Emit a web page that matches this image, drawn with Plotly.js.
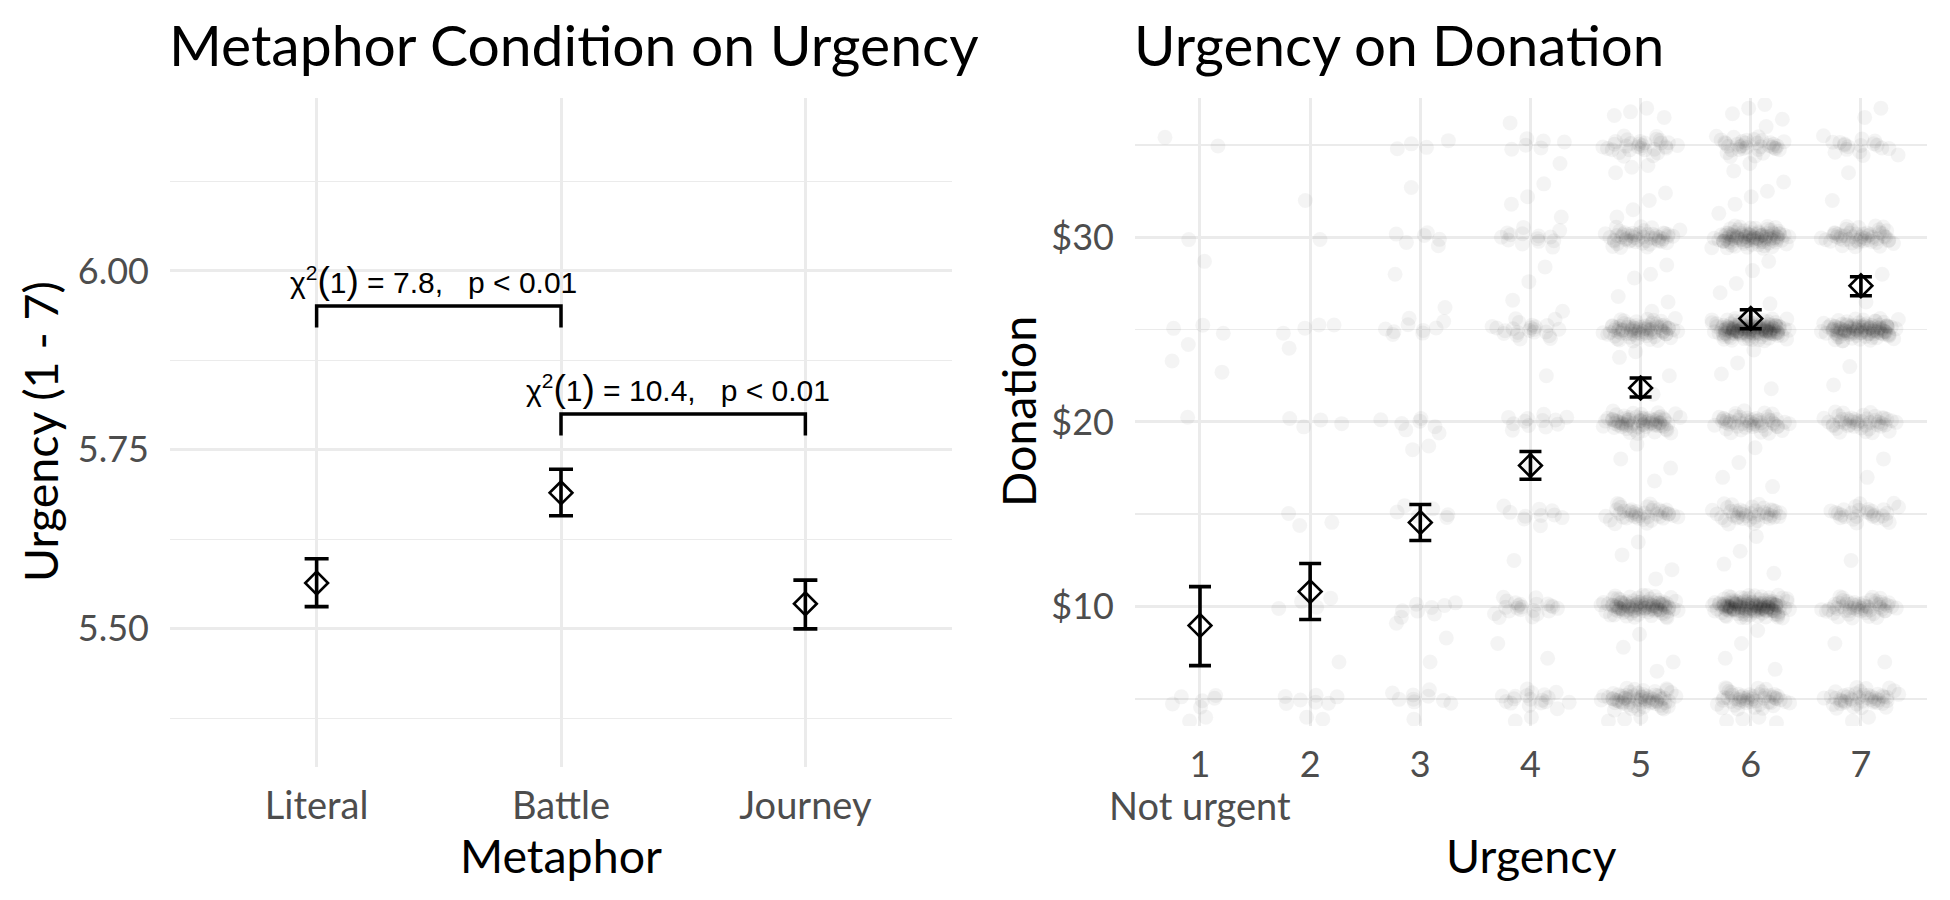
<!DOCTYPE html>
<html>
<head>
<meta charset="utf-8">
<script src="https://cdn.plot.ly/plotly-3.0.1.min.js"></script>
<style>
  html, body { margin: 0; padding: 0; background: #ffffff; }
  #chart { width: 1950px; height: 900px; }
</style>
</head>
<body>
<div id="chart"></div>
<script>
// ---------- Left panel data ----------
const metaphorCategories = ["Literal", "Battle", "Journey"];
const urgencyMean  = [5.564, 5.690, 5.535];
const urgencyLower = [5.531, 5.658, 5.500];
const urgencyUpper = [5.598, 5.723, 5.568];
const urgencyTicks = [5.50, 5.75, 6.00];
const urgencyTickLabels = ["5.50", "5.75", "6.00"];

// comparison brackets
const bracketFrom   = [0, 1];
const bracketTo     = [1, 2];
const bracketLevel  = [5.951, 5.800];
const bracketStat   = ["7.8", "10.4"];
const bracketP      = ["0.01", "0.01"];

// ---------- Right panel data ----------
const urgencyLevels = [1, 2, 3, 4, 5, 6, 7];
const urgencyTickText = ["1", "2", "3", "4", "5", "6", "7"];
const donationMean  = [8.97, 10.81, 14.55, 17.64, 21.84, 25.60, 27.38];
const donationLower = [6.80, 9.30, 13.58, 16.90, 21.35, 25.05, 26.84];
const donationUpper = [11.08, 12.33, 15.53, 18.40, 22.38, 26.08, 27.87];
const donationTicks = [10, 20, 30];
const donationTickLabels = ["$10", "$20", "$30"];

// raw responses (counts at each round donation level, read from cluster darkness)
const donationLevels = [5, 10, 15, 20, 25, 30, 35];
const countsUrgency1 = [6, 0, 0, 1, 3, 1, 2];
const countsUrgency2 = [7, 4, 3, 4, 4, 1, 0];
const countsUrgency3 = [9, 8, 6, 7, 9, 6, 4];
const countsUrgency4 = [18, 22, 10, 12, 22, 14, 6];
const countsUrgency5 = [65, 100, 40, 70, 75, 50, 30];
const countsUrgency6 = [50, 140, 40, 50, 135, 95, 35];
const countsUrgency7 = [45, 55, 28, 45, 105, 50, 18];
// non-round donations
const otherUrgency1 = [28.7, 24.2, 23.3, 22.7, 4.0, 3.8];
const otherUrgency2 = [32.0, 24.0, 7.0, 3.9, 4.0];
const otherUrgency3 = [32.7, 28.0, 26.2, 18.7, 18.5, 9.1, 8.3, 7.0, 3.9];
const otherUrgency4 = [36.2, 34.0, 32.9, 32.2, 31.8, 31.1, 28.4, 27.6, 26.6, 26.0, 22.5, 17.5, 12.5, 8.0, 7.2, 4.0, 3.8];
const otherUrgency5 = [37.0, 36.8, 36.6, 36.5, 33.9, 33.8, 33.5, 32.4, 32.0, 31.5, 31.1, 28.5, 28.0, 27.8, 26.8, 26.5, 26.0, 23.8, 23.5, 22.5, 21.5, 18.8, 18.0, 17.5, 16.8, 13.5, 12.8, 12.0, 11.5, 8.5, 7.8, 7.0, 6.5, 4.0, 3.9, 3.8];
const otherUrgency6 = [37.2, 37.0, 36.7, 36.4, 36.0, 34.0, 33.6, 33.0, 32.5, 32.2, 31.8, 31.3, 28.7, 28.2, 27.5, 27.0, 26.4, 23.9, 23.2, 22.6, 21.8, 18.6, 17.8, 17.0, 16.5, 13.8, 13.0, 12.3, 11.8, 8.7, 8.0, 7.2, 6.6, 4.0, 3.9, 3.8, 3.7];
const otherUrgency7 = [37.0, 36.5, 33.5, 32.0, 28.0, 26.5, 23.0, 22.0, 18.0, 17.0, 12.5, 8.0, 7.0, 4.0, 3.8];

const countsByUrgency = [countsUrgency1, countsUrgency2, countsUrgency3, countsUrgency4, countsUrgency5, countsUrgency6, countsUrgency7];
const otherByUrgency = [otherUrgency1, otherUrgency2, otherUrgency3, otherUrgency4, otherUrgency5, otherUrgency6, otherUrgency7];

// ---------- build jittered cloud (deterministic low-discrepancy jitter) ----------
function frac(v) { return v - Math.floor(v); }
function jitterW(k) { return (k % 3 === 0) ? 0.36 : 0.26; }
function jitterH(k) { return (k % 2 === 0) ? 0.62 : 0.26; }
const cloudX = [], cloudY = [];
urgencyLevels.forEach((u, ui) => {
  let k = 0;
  countsByUrgency[ui].forEach((n, li) => {
    for (let j = 0; j < n; j++) {
      k++;
      cloudX.push(u + (frac(k * 0.7548776662 + ui * 0.31) - 0.5) * 2 * jitterW(k));
      cloudY.push(donationLevels[li] + (frac(k * 0.5698402910 + ui * 0.17) - 0.5) * 2 * jitterH(k));
    }
  });
  otherByUrgency[ui].forEach(v => {
    k++;
    cloudX.push(u + (frac(k * 0.7548776662 + ui * 0.31) - 0.5) * 2 * 0.3);
    cloudY.push(v);
  });
});

// ---------- styling ----------
const FONT = "Lato, 'Open Sans', sans-serif";
const ARIAL = "'Liberation Sans', Arial, sans-serif";
const GRID = "#EBEBEB";
const TICKCOL = "#4D4D4D";
const W = 1950, H = 900;
const px = v => v / W;
const py = v => 1 - v / H;

const traces = [];

traces.push({
  type: "scatter", mode: "markers", x: cloudX, y: cloudY,
  xaxis: "x2", yaxis: "y2", hoverinfo: "skip",
  marker: { size: 15, color: "rgba(0,0,0,0.045)", line: { width: 0 } }
});

// brackets
bracketFrom.forEach((f, i) => {
  const t = bracketTo[i], lv = bracketLevel[i];
  traces.push({
    type: "scatter", mode: "lines",
    x: [f, f, t, t], y: [lv - 0.03, lv, lv, lv - 0.03],
    xaxis: "x", yaxis: "y", hoverinfo: "skip",
    line: { color: "#000000", width: 3.5 }
  });
});

traces.push({
  type: "scatter", mode: "markers",
  x: metaphorCategories.map((c, i) => i), y: urgencyMean,
  xaxis: "x", yaxis: "y",
  error_y: {
    type: "data", symmetric: false,
    array: urgencyUpper.map((u, i) => u - urgencyMean[i]),
    arrayminus: urgencyLower.map((l, i) => urgencyMean[i] - l),
    color: "#000000", thickness: 3.6, width: 12
  },
  marker: { symbol: "diamond-open", size: 17.5, color: "#000000", line: { width: 2.6, color: "#000000" } }
});

traces.push({
  type: "scatter", mode: "markers",
  x: urgencyLevels, y: donationMean,
  xaxis: "x2", yaxis: "y2",
  error_y: {
    type: "data", symmetric: false,
    array: donationUpper.map((u, i) => u - donationMean[i]),
    arrayminus: donationLower.map((l, i) => donationMean[i] - l),
    color: "#000000", thickness: 3.6, width: 11
  },
  marker: { symbol: "diamond-open", size: 17.5, color: "#000000", line: { width: 2.6, color: "#000000" } }
});

const annotations = [
  { text: "Metaphor Condition on Urgency", xref: "paper", yref: "paper", x: px(167), y: py(44), xanchor: "left", yanchor: "middle", showarrow: false, font: { family: FONT, size: 57, color: "#000000" } },
  { text: "Urgency on Donation", xref: "paper", yref: "paper", x: px(1132), y: py(44), xanchor: "left", yanchor: "middle", showarrow: false, font: { family: FONT, size: 56.5, color: "#000000" } },
  { text: "Metaphor", xref: "paper", yref: "paper", x: px(561), y: py(855), xanchor: "center", yanchor: "middle", showarrow: false, font: { family: FONT, size: 46.5, color: "#000000" } },
  { text: "Urgency", xref: "paper", yref: "paper", x: px(1531), y: py(855), xanchor: "center", yanchor: "middle", showarrow: false, font: { family: FONT, size: 46.5, color: "#000000" } },
  { text: "Urgency (1 - 7)", xref: "paper", yref: "paper", x: px(40), y: py(432), xanchor: "center", yanchor: "middle", textangle: -90, showarrow: false, font: { family: FONT, size: 46.5, color: "#000000" } },
  { text: "Donation", xref: "paper", yref: "paper", x: px(1018), y: py(412), xanchor: "center", yanchor: "middle", textangle: -90, showarrow: false, font: { family: FONT, size: 46.5, color: "#000000" } },
  { text: "Not urgent", xref: "x2", yref: "paper", x: urgencyLevels[0], y: py(805), xanchor: "center", yanchor: "middle", showarrow: false, font: { family: FONT, size: 38, color: TICKCOL } }
];
bracketFrom.forEach((f, i) => {
  const label = "\u03C7<sup>2</sup><span style=\"font-size:37px\">(</span>1<span style=\"font-size:37px\">)</span> = " +
    bracketStat[i] + ",\u00A0\u00A0 p &lt; " + bracketP[i];
  annotations.push({
    text: label, xref: "x", yref: "y",
    x: (f + bracketTo[i]) / 2 - 0.02, y: bracketLevel[i] + 0.004,
    xanchor: "center", yanchor: "bottom", showarrow: false,
    font: { family: ARIAL, size: 30, color: "#000000" }
  });
});

const layout = {
  width: W, height: H,
  margin: { l: 0, r: 0, t: 0, b: 0 },
  paper_bgcolor: "#ffffff", plot_bgcolor: "#ffffff",
  showlegend: false,
  xaxis: {
    domain: [px(170), px(952)], range: [-0.6, 2.6], anchor: "y",
    tickvals: [0, 1, 2], ticktext: metaphorCategories,
    showgrid: true, gridcolor: GRID, gridwidth: 3, zeroline: false, showline: false,
    ticks: "", ticklabelstandoff: 13,
    tickfont: { family: FONT, size: 38, color: TICKCOL }, fixedrange: true
  },
  yaxis: {
    domain: [py(767), py(98)], range: [5.307, 6.2416], anchor: "x",
    tickvals: urgencyTicks, ticktext: urgencyTickLabels,
    showgrid: true, gridcolor: GRID, gridwidth: 3, zeroline: false, showline: false,
    minor: { tickvals: [5.375, 5.625, 5.875, 6.125], showgrid: true, gridcolor: GRID, gridwidth: 1.6, ticks: "" },
    ticks: "", ticklabelstandoff: 20,
    tickfont: { family: FONT, size: 36, color: TICKCOL }, fixedrange: true
  },
  xaxis2: {
    domain: [px(1135), px(1927)], range: [0.41, 7.6], anchor: "y2",
    tickvals: urgencyLevels, ticktext: urgencyTickText,
    showgrid: true, gridcolor: GRID, gridwidth: 3, zeroline: false, showline: false,
    ticks: "", ticklabelstandoff: 14,
    tickfont: { family: FONT, size: 36, color: TICKCOL }, fixedrange: true
  },
  yaxis2: {
    domain: [py(726), py(98)], range: [3.53, 37.55], anchor: "x2",
    tickvals: donationTicks, ticktext: donationTickLabels,
    showgrid: true, gridcolor: GRID, gridwidth: 3, zeroline: false, showline: false,
    minor: { tickvals: [5, 15, 25, 35], showgrid: true, gridcolor: GRID, gridwidth: 1.6, ticks: "" },
    ticks: "", ticklabelstandoff: 20,
    tickfont: { family: FONT, size: 36, color: TICKCOL }, fixedrange: true
  },
  annotations: annotations
};

Plotly.newPlot("chart", traces, layout, { displayModeBar: false, staticPlot: true });
</script>
</body>
</html>
